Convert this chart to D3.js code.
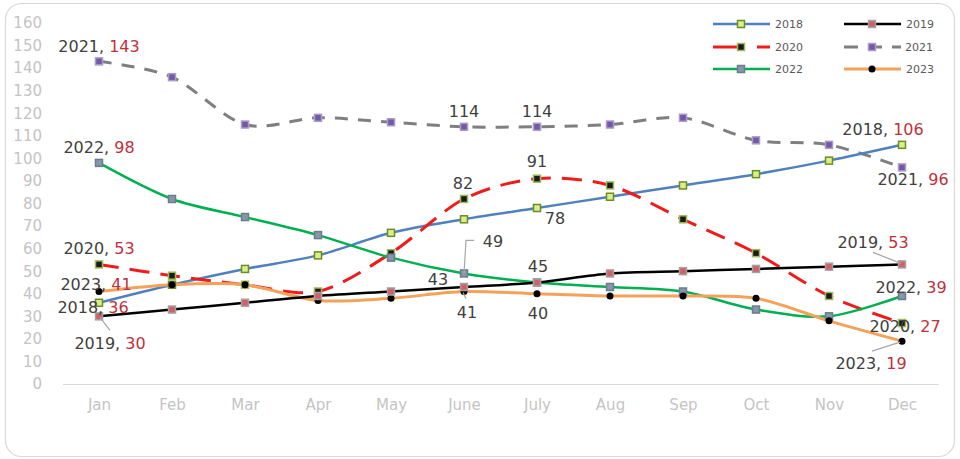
<!DOCTYPE html>
<html>
<head>
<meta charset="utf-8">
<script src="https://cdn.jsdelivr.net/npm/d3@7"></script>
<style>
  body { margin: 0; background: #fff; }
  #chart { width: 960px; height: 459px; }
  .axis text { font-family: "DejaVu Sans", sans-serif; fill: #c4c4c4; }
  .data-label { font-family: "DejaVu Sans", sans-serif; font-size: 16px; fill: #404040; }
  .legend text { font-family: "DejaVu Sans", sans-serif; font-size: 11px; fill: #595959; }
</style>
</head>
<body>
<div id="chart"></div>
<script>
// chart values
const months = ["Jan", "Feb", "Mar", "Apr", "May", "June", "July", "Aug", "Sep", "Oct", "Nov", "Dec"]
const yTicks = [0, 10, 20, 30, 40, 50, 60, 70, 80, 90, 100, 110, 120, 130, 140, 150, 160]
const years = ["2018", "2019", "2020", "2021", "2022", "2023"]

const values2018 = [36, 44, 51, 57, 67, 73, 78, 83, 88, 93, 99, 106]
const values2019 = [30, 33, 36, 39, 41, 43, 45, 49, 50, 51, 52, 53]
const values2020 = [53, 48, 44, 41, 58, 82, 91, 88, 73, 58, 39, 27]
const values2021 = [143, 136, 115, 118, 116, 114, 114, 115, 118, 108, 106, 96]
const values2022 = [98, 82, 74, 66, 56, 49, 45, 43, 41, 33, 30, 39]
const values2023 = [41, 44, 44, 37, 38, 41, 40, 39, 39, 38, 28, 19]

// styles per series
const styles = {
    "2018": { color: "#4f81bd", width: 2.5, dash: null, marker: "square", fill: "#dcee8a", stroke: "#6b8e23" },
    "2019": { color: "#000000", width: 2.5, dash: null, marker: "square", fill: "#d0606a", stroke: "#a9a0a0" },
    "2020": { color: "#ee1c1c", width: 3, dash: "20,11", marker: "square", fill: "#1a1a1a", stroke: "#9bbb59" },
    "2021": { color: "#7f7f7f", width: 3, dash: "13,10", marker: "square", fill: "#7358a6", stroke: "#a99ccc" },
    "2022": { color: "#00b050", width: 2.5, dash: null, marker: "square", fill: "#8597a8", stroke: "#6b7d8c" },
    "2023": { color: "#f4a25a", width: 3, dash: null, marker: "circle", fill: "#000000", stroke: "#000000" }
}

const seriesValues = {
    "2018": values2018, "2019": values2019, "2020": values2020,
    "2021": values2021, "2022": values2022, "2023": values2023
}

// data labels: which point, offset of label centre from point, full or value only, optional leader
const labels = [
    { year: "2021", m: 0, dx: 0, dy: -15, full: true },
    { year: "2022", m: 0, dx: 0, dy: -16, full: true },
    { year: "2020", m: 0, dx: 0, dy: -16, full: true },
    { year: "2023", m: 0, dx: -3, dy: -7, full: true },
    { year: "2018", m: 0, dx: -6, dy: 4, full: true },
    { year: "2019", m: 0, dx: 11, dy: 27, full: true, leader: [[1, 1], [11, 14]] },
    { year: "2021", m: 5, dx: 0, dy: -16 },
    { year: "2021", m: 6, dx: 0, dy: -16 },
    { year: "2020", m: 5, dx: -1, dy: -16 },
    { year: "2020", m: 6, dx: 0, dy: -17 },
    { year: "2018", m: 6, dx: 18, dy: 10 },
    { year: "2022", m: 5, dx: 29, dy: -32, leader: [[10, -33], [2, -33], [0, 0]] },
    { year: "2019", m: 5, dx: -26, dy: -8 },
    { year: "2023", m: 5, dx: 3, dy: 21, leader: [[2, 7], [-1, 1]] },
    { year: "2019", m: 6, dx: 1, dy: -16 },
    { year: "2023", m: 6, dx: 1, dy: 19 },
    { year: "2018", m: 11, dx: -19, dy: -16, full: true },
    { year: "2021", m: 11, dx: 11, dy: 12, full: true },
    { year: "2019", m: 11, dx: -29, dy: -22, full: true, leader: [[-29, -12], [-1, -1]] },
    { year: "2022", m: 11, dx: 9, dy: -9, full: true },
    { year: "2020", m: 11, dx: 3, dy: 3, full: true },
    { year: "2023", m: 11, dx: -31, dy: 22, full: true, leader: [[-30, 10], [-2, 1]] }
]

const svg = d3.select("#chart").append("svg")
    .attr("width", 960)
    .attr("height", 459)

// chart border
svg.append("rect")
    .attr("x", 5.5).attr("y", 3.5)
    .attr("width", 949).attr("height", 453)
    .attr("rx", 16)
    .attr("fill", "#fff")
    .attr("stroke", "#d9d9d9")
    .attr("stroke-width", 1.2)

// scales
const x = d3.scalePoint()
    .domain(months)
    .range([62.5, 938.5])
    .padding(0.5)

const y = d3.scaleLinear()
    .domain([0, 160])
    .range([384, 23])

// axes
const yAxis = d3.axisLeft(y).tickValues(yTicks).tickSize(0).tickPadding(20)
svg.append("g")
    .attr("class", "axis y-axis")
    .attr("transform", "translate(62,0)")
    .call(yAxis)
    .call(g => g.select(".domain").remove())
    .selectAll("text").attr("font-size", "15px")

const xAxis = d3.axisBottom(x).tickSize(0).tickPadding(15)
svg.append("g")
    .attr("class", "axis x-axis")
    .attr("transform", "translate(0,384)")
    .call(xAxis)
    .call(g => g.select(".domain").attr("stroke", "#d9d9d9").attr("stroke-width", 1.2))
    .selectAll("text").attr("font-size", "15px")

// lines
const line = d3.line()
    .x((d, i) => x(months[i]))
    .y(d => y(d))
    .curve(d3.curveCardinal.tension(0.1))

function drawMarker(g, type, cx, cy, st, size) {
    if (type === "circle") {
        g.append("circle")
            .attr("cx", cx).attr("cy", cy).attr("r", size / 2)
            .attr("fill", st.fill)
    } else {
        g.append("rect")
            .attr("x", cx - size / 2).attr("y", cy - size / 2)
            .attr("width", size).attr("height", size)
            .attr("fill", st.fill)
            .attr("stroke", st.stroke)
            .attr("stroke-width", 1.5)
    }
}

const plot = svg.append("g").attr("class", "plot")

// draw order roughly as in the reference
const drawOrder = ["2021", "2018", "2020", "2022", "2023", "2019"]
drawOrder.forEach(yr => {
    let st = styles[yr]
    plot.append("path")
        .datum(seriesValues[yr])
        .attr("fill", "none")
        .attr("stroke", st.color)
        .attr("stroke-width", st.width)
        .attr("stroke-dasharray", st.dash)
        .attr("d", line)
})
drawOrder.forEach(yr => {
    let st = styles[yr]
    let g = plot.append("g").attr("class", "markers-" + yr)
    seriesValues[yr].forEach((v, i) => {
        drawMarker(g, st.marker, x(months[i]), y(v), st, 7)
    })
})

// data labels
const labelG = svg.append("g").attr("class", "labels")
labels.forEach(l => {
    let v = seriesValues[l.year][l.m]
    let px = x(months[l.m])
    let py = y(v)
    if (l.leader) {
        labelG.append("path")
            .attr("d", d3.line()(l.leader.map(p => [px + p[0], py + p[1]])))
            .attr("fill", "none")
            .attr("stroke", "#a6a6a6")
            .attr("stroke-width", 1.2)
    }
    let t = labelG.append("text")
        .attr("class", "data-label")
        .attr("x", px + l.dx)
        .attr("y", py + l.dy)
        .attr("dy", "0.36em")
        .attr("text-anchor", "middle")
    if (l.full) {
        t.append("tspan").text(l.year + ", ")
        t.append("tspan").attr("fill", "#c0313a").text(v)
    } else {
        t.text(v)
    }
})

// legend
const legendPos = {
    "2018": [713, 24], "2019": [844, 24],
    "2020": [713, 47], "2021": [844, 47],
    "2022": [713, 69], "2023": [844, 69]
}
const legend = svg.append("g").attr("class", "legend")
years.forEach(yr => {
    let st = styles[yr]
    let p = legendPos[yr]
    let g = legend.append("g").attr("transform", "translate(" + p[0] + "," + p[1] + ")")
    g.append("line")
        .attr("x1", 0).attr("x2", 57)
        .attr("stroke", st.color)
        .attr("stroke-width", st.width)
        .attr("stroke-dasharray", st.dash ? (yr === "2020" ? "30,14" : "14,10") : null)
    drawMarker(g, st.marker, 28, 0, st, 7)
    g.append("text")
        .attr("x", yr === "2021" ? 61 : 62)
        .attr("dy", "0.36em")
        .text(yr)
})
</script>
</body>
</html>
